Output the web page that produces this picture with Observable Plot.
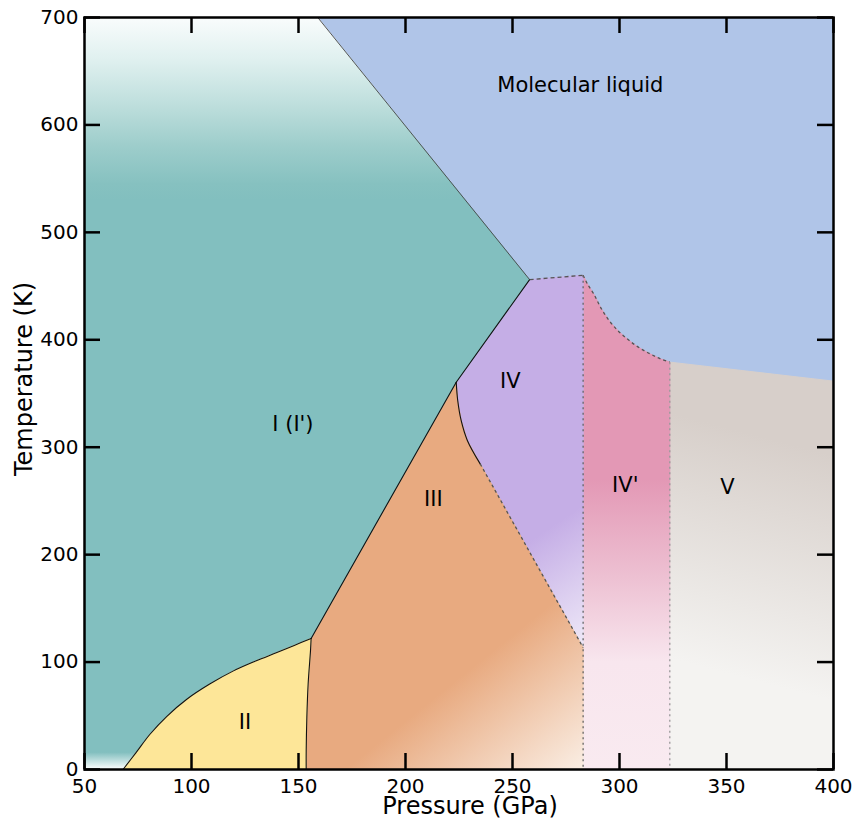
<!DOCTYPE html>
<html><head><meta charset="utf-8">
<script src="https://cdn.jsdelivr.net/npm/d3@7"></script>
<script src="https://cdn.jsdelivr.net/npm/@observablehq/plot@0.6"></script>
<style>body{margin:0;background:#fff;}</style>
</head><body><div id="chart"></div>
<script>
// ---- Data: phase boundaries of hydrogen, [pressure (GPa), temperature (K)] ----
const xTicks = [50, 100, 150, 200, 250, 300, 350, 400];
const yTicks = [0, 100, 200, 300, 400, 500, 600, 700];

const bLiquidI = [[159, 700], [258, 456]];
const bI_IV = [[258, 456], [223.7, 360.5]];
const bI_III = [[223.7, 360.5], [155.9, 122]];
const bI_II = [[68, 0], [74, 15.5], [80.6, 32.8], [88.5, 49.5], [97.8, 65.4], [108.5, 79.5], [119.6, 91.8], [130, 101], [139.9, 108.9], [148, 115.5], [155.9, 122]];
const bII_III = [[155.9, 122], [155.6, 110.4], [154.5, 79.4], [153.9, 48.3], [153.6, 17.2], [153.6, 0]];
const bIII_IVsolid = [[223.7, 360.5], [224.4, 343.5], [226, 324.9], [228.9, 306.3], [234.9, 284.5]];
const bIII_IVdashed = [[234.9, 284.5], [283, 113.5]];
const bLiquidIV = [[258, 456], [283, 460]];
const bLiquidIVp = [[283, 460], [285, 452], [287.9, 442.9], [291.5, 429], [295.7, 416.4], [299.5, 408], [303.5, 401], [307.4, 395], [311.3, 390.1], [315.2, 386], [319.1, 382.3], [323.5, 379.2]];
const bLiquidV = [[323.5, 379.2], [400, 361.5]];
const bIV_IVp = [[283, 460], [283, 0]];
const bIVp_V = [[323.5, 379.2], [323.5, 0]];

const labelText = ["Molecular liquid", "I (I')", "II", "III", "IV", "IV'", "V"];
const labelP = [281.7, 147.4, 125, 213, 249, 302.7, 350.4];
const labelT = [637, 321, 44, 252, 361, 265, 263];

const colors = {
  liquid: "#b0c5e8", I: "#82bfbf", II: "#fde698", III: "#e8aa80",
  IV: "#c5aee6", IVp: "#e398b5", V: "#d7cfca"
};

// ---- Build polygons from the boundaries ----
const rev = a => a.slice().reverse();
const P = a => a.map(([p, t]) => ({p, t}));
const xMin = xTicks[0], xMax = xTicks[xTicks.length - 1];
const yMin = yTicks[0], yMax = yTicks[yTicks.length - 1];

const polyI = P([[xMin, yMin], ...bI_II, ...rev(bI_III), ...rev(bI_IV), ...rev(bLiquidI), [xMin, yMax]]);
const polyII = P([...bI_II, ...bII_III]);
const polyIII = P([...rev(bI_III), ...bIII_IVsolid, ...bIII_IVdashed, [bIV_IVp[1][0], yMin], ...rev(bII_III)]);
const polyIV = P([...bLiquidIV, ...rev(bIII_IVdashed), ...rev(bIII_IVsolid), ...rev(bI_IV)]);
const polyIVp = P([...bLiquidIVp, [bIVp_V[1][0], yMin], [bIV_IVp[1][0], yMin]]);
const polyV = P([...bLiquidV, [xMax, yMin], [bIVp_V[1][0], yMin]]);

const W = 862, H = 822, mL = 84, mR = 29, mT = 17, mB = 53;
const plotW = W - mL - mR, plotH = H - mT - mB;
const tickLen = 16;

const region = (data, id, curve = "linear") => Plot.line(data, {x: "p", y: "t", fill: `url(#${id})`, stroke: `url(#${id})`, strokeWidth: 1, curve});
const solid = (data, curve = "linear", stroke = "#111", sw = 1.1) => Plot.line(P(data), {x: "p", y: "t", stroke, strokeWidth: sw, curve});
const dashed = (data, curve, stroke, dash) => Plot.line(P(data), {x: "p", y: "t", stroke, strokeWidth: 1.3, strokeDasharray: dash, strokeLinecap: "butt", curve});

const labels = labelText.map((s, i) => ({s, p: labelP[i], t: labelT[i]}));

const chart = Plot.plot({
  width: W, height: H,
  marginLeft: mL, marginRight: mR, marginTop: mT, marginBottom: mB,
  x: {domain: [xMin, xMax], axis: null},
  y: {domain: [yMin, yMax], axis: null},
  style: {fontFamily: "DejaVu Sans", background: "white", color: "black"},
  marks: [
    Plot.frame({fill: colors.liquid, stroke: null}),
    region(polyV, "gV"),
    region(polyIVp, "gIVp"),
    region(polyIV, "gIV"),
    region(polyIII, "gIII"),
    region(polyI, "gI"),
    Plot.line(polyII, {x: "p", y: "t", fill: colors.II, stroke: colors.II, strokeWidth: 1}),
    solid(bLiquidI, "linear", "#444", 0.9),
    solid(bI_IV),
    solid(bI_III),
    solid(bI_II, "catmull-rom"),
    solid(bII_III, "catmull-rom"),
    solid(bIII_IVsolid, "catmull-rom"),
    dashed(bIII_IVdashed, "linear", "#555", "3,3"),
    dashed(bLiquidIV, "linear", "#555", "4,3"),
    dashed(bLiquidIVp, "catmull-rom", "#555", "3,3"),
    dashed(bIV_IVp, "linear", "#666", "2,3.5"),
    dashed(bIVp_V, "linear", "#999", "2,3.5"),
    Plot.text(labels, {x: "p", y: "t", text: "s", fontSize: 21, fill: "black"}),
    Plot.axisX(xTicks, {tickSize: 0, tickPadding: 9, fontSize: 20, label: null}),
    Plot.axisY(yTicks, {tickSize: 0, tickPadding: 6, fontSize: 20, label: null}),
    Plot.tickX(xTicks, {x: d => d, insetTop: plotH - tickLen, stroke: "black", strokeWidth: 2.5}),
    Plot.tickX(xTicks, {x: d => d, insetBottom: plotH - tickLen, stroke: "black", strokeWidth: 2.5}),
    Plot.tickY(yTicks, {y: d => d, insetRight: plotW - tickLen, stroke: "black", strokeWidth: 2.5}),
    Plot.tickY(yTicks, {y: d => d, insetLeft: plotW - tickLen, stroke: "black", strokeWidth: 2.5}),
    Plot.frame({stroke: "black", strokeWidth: 2.5}),
    Plot.text(["Pressure (GPa)"], {frameAnchor: "bottom", textAnchor: "middle", lineAnchor: "middle", dx: 11, dy: 37, fontSize: 24}),
    Plot.text(["Temperature (K)"], {frameAnchor: "left", textAnchor: "middle", lineAnchor: "middle", rotate: -90, dx: -60, dy: -14.5, fontSize: 24})
  ]
});

// ---- Gradient definitions placed via the scales ----
const sx = chart.scale("x"), sy = chart.scale("y");
const defs = d3.select(chart).insert("defs", ":first-child");
function linGrad(id, [p1, t1], [p2, t2], stops) {
  const g = defs.append("linearGradient").attr("id", id).attr("gradientUnits", "userSpaceOnUse")
    .attr("x1", sx.apply(p1)).attr("y1", sy.apply(t1))
    .attr("x2", sx.apply(p2)).attr("y2", sy.apply(t2));
  stops.forEach(([o, c]) => g.append("stop").attr("offset", o).attr("stop-color", c));
}
const vOff = (t, top, bottom) => (top - t) / (top - bottom);
linGrad("gI", [xMin, yMax], [xMin, yMin], [
  [vOff(700, 700, 0), "#f9fcfc"], [vOff(660, 700, 0), "#dff0ef"], [vOff(620, 700, 0), "#bfdfdd"],
  [vOff(580, 700, 0), "#9dcdcb"], [vOff(545, 700, 0), "#86c1c0"], [vOff(530, 700, 0), colors.I],
  [vOff(16, 700, 0), colors.I], [1, "#ffffff"]
]);
linGrad("gIII", [255.5, 133.7], [299, 25.6], [[0, colors.III], [1, "#faeee4"]]);
linGrad("gIV", [258.3, 213], [286.4, 129], [[0, colors.IV], [1, "#ebe4f6"]]);
linGrad("gIVp", [300, 270], [300, 0], [
  [0, colors.IVp], [vOff(180, 270, 0), "#edc0d2"], [vOff(100, 270, 0), "#f8e6ee"], [1, "#f9eaf0"]
]);
linGrad("gV", [337.8, 324.8], [309.7, 110.4], [[0, colors.V], [1, "#f4f3f1"]]);

document.getElementById("chart").appendChild(chart);
</script>
</body></html>
